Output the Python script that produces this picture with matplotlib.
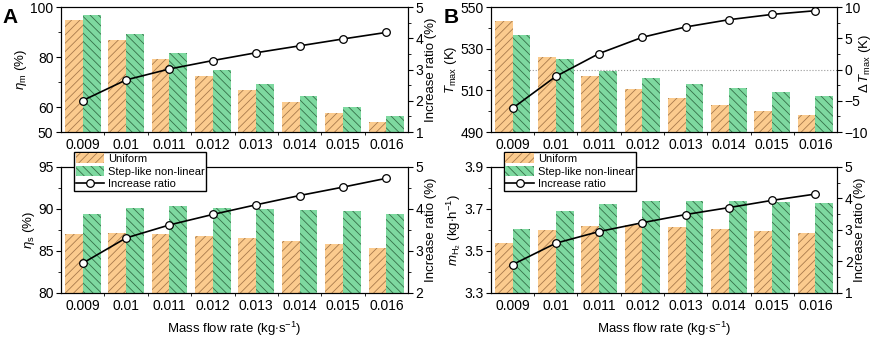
import matplotlib
matplotlib.use("Agg")
import matplotlib.pyplot as plt
import numpy as np

plt.rcParams['font.family'] = ['Liberation Sans', 'DejaVu Sans']
plt.rcParams['mathtext.fontset'] = 'custom'
plt.rcParams['mathtext.rm'] = 'Liberation Sans'
plt.rcParams['mathtext.it'] = 'Liberation Sans:italic'
plt.rcParams['hatch.linewidth'] = 0.6
plt.rcParams['axes.linewidth'] = 0.8

# mass flow rates (kg/s)
flow = ["0.009", "0.01", "0.011", "0.012", "0.013", "0.014", "0.015", "0.016"]

# A: mixing efficiency (%) and increase ratio (%)
eta_m_uniform = [95.0, 86.7, 79.1, 72.5, 67.0, 62.1, 57.7, 54.1]
eta_m_step = [97.0, 89.1, 81.5, 75.0, 69.3, 64.4, 60.1, 56.4]
eta_m_ratio = [2.01, 2.67, 3.02, 3.29, 3.54, 3.76, 3.98, 4.19]

# B: max temperature (K) and delta T (K)
tmax_uniform = [543.2, 526.1, 516.9, 510.7, 506.4, 503.1, 500.3, 498.3]
tmax_step = [536.8, 525.0, 519.3, 515.9, 513.1, 511.0, 509.1, 507.5]
tmax_delta = [-6.18, -1.09, 2.57, 5.17, 6.82, 7.98, 8.83, 9.42]

# bottom-left: eta_s (%)
eta_s_uniform = [87.06, 87.15, 87.06, 86.8, 86.5, 86.2, 85.8, 85.4]
eta_s_step = [89.4, 90.1, 90.3, 90.1, 90.05, 89.9, 89.7, 89.4]
eta_s_ratio = [2.71, 3.31, 3.62, 3.87, 4.10, 4.32, 4.52, 4.73]

# bottom-right: hydrogen production (kg/h)
mh2_uniform = [3.540, 3.598, 3.617, 3.622, 3.616, 3.606, 3.597, 3.584]
mh2_step = [3.606, 3.692, 3.724, 3.738, 3.740, 3.740, 3.735, 3.730]
mh2_ratio = [1.90, 2.58, 2.95, 3.23, 3.49, 3.71, 3.94, 4.14]

c_uni = '#fbcb8e'
c_uni_h = '#a87a4c'
c_step = '#7ed9a0'
c_step_h = '#357048'

fig = plt.figure(figsize=(8.72, 3.37), dpi=100)

x = np.arange(len(flow))
w = 0.41


def panel(rect, uni, step, ratio, ylim, yticks, yminor, ylabel,
          rlim, rticks, rminor, rlabel, xlabel=False, legend=False):
    ax = fig.add_axes(rect)
    b1 = ax.bar(x - w / 2, uni, w, color=c_uni, edgecolor=c_uni_h, lw=0,
                hatch='////', label='Uniform')
    b2 = ax.bar(x + w / 2, step, w, color=c_step, edgecolor=c_step_h, lw=0,
                hatch='\\\\\\\\', label='Step-like non-linear')
    ax.set_xlim(-0.5, len(flow) - 0.5)
    ax.set_ylim(*ylim)
    ax.set_yticks(yticks)
    ax.set_yticks(yminor, minor=True)
    ax.set_xticks(x)
    ax.set_xticklabels(flow)
    ax.set_xticks(x[:-1] + 0.5, minor=True)
    ax.tick_params(axis='x', which='major', length=0, labelsize=10, pad=4)
    ax.tick_params(axis='x', which='minor', length=2.5, direction='out')
    ax.tick_params(axis='y', which='major', length=3.5, labelsize=10,
                   direction='out', pad=2)
    ax.tick_params(axis='y', which='minor', length=2, direction='out')
    ax.set_ylabel(ylabel, fontsize=9.5, labelpad=1)
    if xlabel:
        ax.set_xlabel('Mass flow rate (kg$\\cdot$s$^{-1}$)', fontsize=9.5, labelpad=5)

    ax2 = ax.twinx()
    l, = ax2.plot(x, ratio, color='black', lw=1.2, marker='o', ms=5.5,
                  mfc='white', mec='black', mew=0.9, label='Increase ratio')
    ax2.set_ylim(*rlim)
    ax2.set_yticks(rticks)
    ax2.set_yticks(rminor, minor=True)
    ax2.tick_params(axis='y', which='major', length=3.5, labelsize=10,
                    direction='out', pad=2)
    ax2.tick_params(axis='y', which='minor', length=2, direction='out')
    ax2.set_ylabel(rlabel, fontsize=9.5, labelpad=1)

    if legend:
        ax2.legend([b1, b2, l], ['Uniform', 'Step-like non-linear', 'Increase ratio'],
                   loc='upper left', bbox_to_anchor=(0.037, 1.12), fontsize=8,
                   frameon=True, fancybox=False, edgecolor='black', framealpha=1,
                   handlelength=2.6, handleheight=1.0, labelspacing=0.15,
                   borderpad=0.15, handletextpad=0.3, borderaxespad=0)
    return ax, ax2


axA, _ = panel([0.070, 0.608, 0.398, 0.371], eta_m_uniform, eta_m_step, eta_m_ratio,
               (50, 100), [50, 60, 80, 100], [70, 90], r'$\eta_\mathrm{m}$ (%)',
               (1, 5), [1, 2, 3, 4, 5], [1.5, 2.5, 3.5, 4.5], 'Increase ratio (%)')

axB, axB2 = panel([0.563, 0.608, 0.397, 0.371], tmax_uniform, tmax_step, tmax_delta,
                  (490, 550), [490, 510, 530, 550], [500, 520, 540],
                  r'$T_\mathrm{max}$ (K)',
                  (-10, 10), [-10, -5, 0, 5, 10], [-7.5, -2.5, 2.5, 7.5],
                  r'$\Delta\,T_\mathrm{max}$ (K)')
axB.axhline(520, color='#999999', ls=':', lw=0.8, zorder=0.5)
axB2.yaxis.set_label_coords(1.057, 0.55)

panel([0.070, 0.1306, 0.398, 0.374], eta_s_uniform, eta_s_step, eta_s_ratio,
      (80, 95), [80, 85, 90, 95], [82.5, 87.5, 92.5], r'$\eta_\mathrm{s}$ (%)',
      (2, 5), [2, 3, 4, 5], [2.5, 3.5, 4.5], 'Increase ratio (%)',
      xlabel=True, legend=True)

panel([0.563, 0.1306, 0.397, 0.374], mh2_uniform, mh2_step, mh2_ratio,
      (3.3, 3.9), [3.3, 3.5, 3.7, 3.9], [3.4, 3.6, 3.8],
      r'$m_{\mathrm{H}_2}$ (kg$\cdot$h$^{-1}$)',
      (1, 5), [1, 2, 3, 4, 5], [1.5, 2.5, 3.5, 4.5], 'Increase ratio (%)',
      xlabel=True, legend=True)

fig.text(0.003, 0.975, 'A', fontsize=15, fontweight='bold', va='top')
fig.text(0.509, 0.975, 'B', fontsize=15, fontweight='bold', va='top')

fig.savefig('out.png', dpi=100)
